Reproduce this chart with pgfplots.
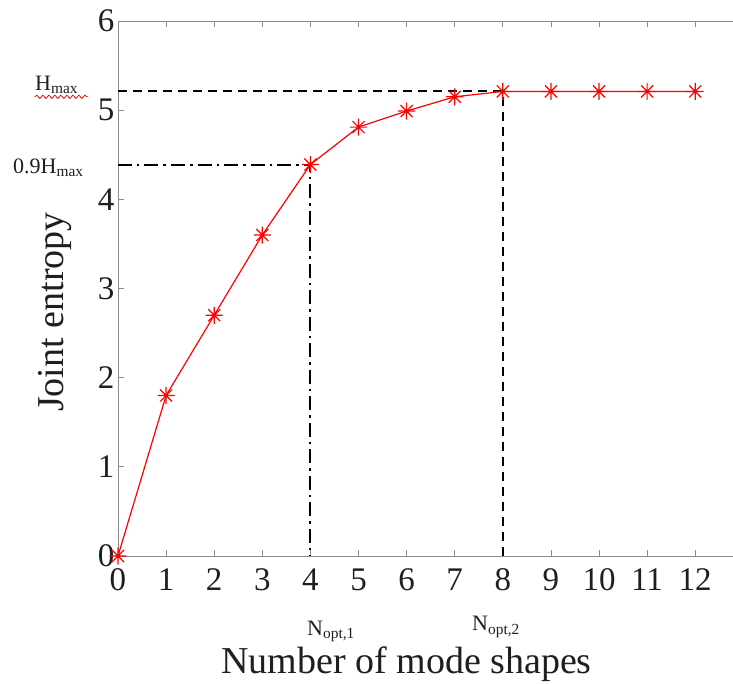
\documentclass[border=0pt]{standalone}
\usepackage{fontspec}
\setmainfont{Liberation Serif}
\usepackage{pgfplots}
\pgfplotsset{compat=1.18}
\usetikzlibrary{decorations.pathmorphing}

\definecolor{axgray}{gray}{0.55}
\definecolor{txt}{gray}{0.12}

% eight-armed asterisk (plus and cross overlaid)
\pgfdeclareplotmark{star8}{%
  \pgfpathmoveto{\pgfqpoint{0pt}{\pgfplotmarksize}}%
  \pgfpathlineto{\pgfqpoint{0pt}{-\pgfplotmarksize}}%
  \pgfpathmoveto{\pgfqpoint{\pgfplotmarksize}{0pt}}%
  \pgfpathlineto{\pgfqpoint{-\pgfplotmarksize}{0pt}}%
  \pgfpathmoveto{\pgfqpoint{0.707\pgfplotmarksize}{0.707\pgfplotmarksize}}%
  \pgfpathlineto{\pgfqpoint{-0.707\pgfplotmarksize}{-0.707\pgfplotmarksize}}%
  \pgfpathmoveto{\pgfqpoint{-0.707\pgfplotmarksize}{0.707\pgfplotmarksize}}%
  \pgfpathlineto{\pgfqpoint{0.707\pgfplotmarksize}{-0.707\pgfplotmarksize}}%
  \pgfusepathqstroke}

\begin{document}
\begin{tikzpicture}
\begin{axis}[
  name=ax,
  scale only axis,
  width=625.3pt, height=535pt,
  xmin=0, xmax=13, ymin=0, ymax=6,
  xtick={0,1,...,12}, ytick={0,1,...,6},
  tick align=inside,
  major tick length=6pt,
  axis line style={axgray, line width=0.8pt},
  tick style={axgray, line width=0.8pt},
  /pgf/number format/assume math mode=true,
  ticklabel style={font=\fontsize{33}{40}\selectfont, text=txt},
  xticklabel style={yshift=-9pt},
  xlabel={Number of mode shapes},
  ylabel={Joint entropy},
  every axis x label/.style={at={(axis description cs:0.4615,0)}, anchor=base,
    yshift=-117pt, font=\fontsize{38}{44}\selectfont, text=txt},
  every axis y label/.style={at={(axis description cs:-0.0864,0.456)}, anchor=base,
    rotate=90, font=\fontsize{38}{44}\selectfont, text=txt},
  clip=false,
]
% optimum reference lines
\addplot[black, line width=2pt, dash pattern=on 9pt off 6pt]
  coordinates {(0,5.21) (8,5.21) (8,0)};
\addplot[black, line width=2pt, dash pattern=on 14pt off 5pt on 2.5pt off 5pt]
  coordinates {(0,4.39) (4,4.39) (4,0)};

% joint entropy curve
\addplot[red, line width=1.2pt, mark=star8, mark size=8.5pt,
  mark options={line width=1.2pt}]
  coordinates {
    (0,0) (1,1.8) (2,2.7) (3,3.6) (4,4.39) (5,4.81) (6,4.99)
    (7,5.15) (8,5.21) (9,5.21) (10,5.21) (11,5.21) (12,5.21)
  };

% annotations
\node[anchor=base west, inner sep=0pt, font=\fontsize{22}{26}\selectfont, text=txt]
  at (axis cs:-1.726,5.226) {H\textsubscript{max}};
\draw[red, line width=0.8pt, decorate,
  decoration={snake, amplitude=1.6pt, segment length=6pt}]
  (axis cs:-1.726,5.15) -- (axis cs:-0.62,5.15);
\node[anchor=base west, inner sep=0pt, font=\fontsize{22}{26}\selectfont, text=txt]
  at (axis cs:-2.183,4.295) {0.9H\textsubscript{max}};
\node[anchor=base west, inner sep=0pt, font=\fontsize{22}{26}\selectfont, text=txt]
  at (axis cs:3.93,-0.886) {N\textsubscript{opt,1}};
\node[anchor=base west, inner sep=0pt, font=\fontsize{22}{26}\selectfont, text=txt]
  at (axis cs:7.36,-0.841) {N\textsubscript{opt,2}};
\end{axis}
\pgfresetboundingbox
\path ([xshift=-118pt,yshift=-127pt]ax.south west) rectangle ([xshift=615pt,yshift=21pt]ax.north west);
\end{tikzpicture}
\end{document}
